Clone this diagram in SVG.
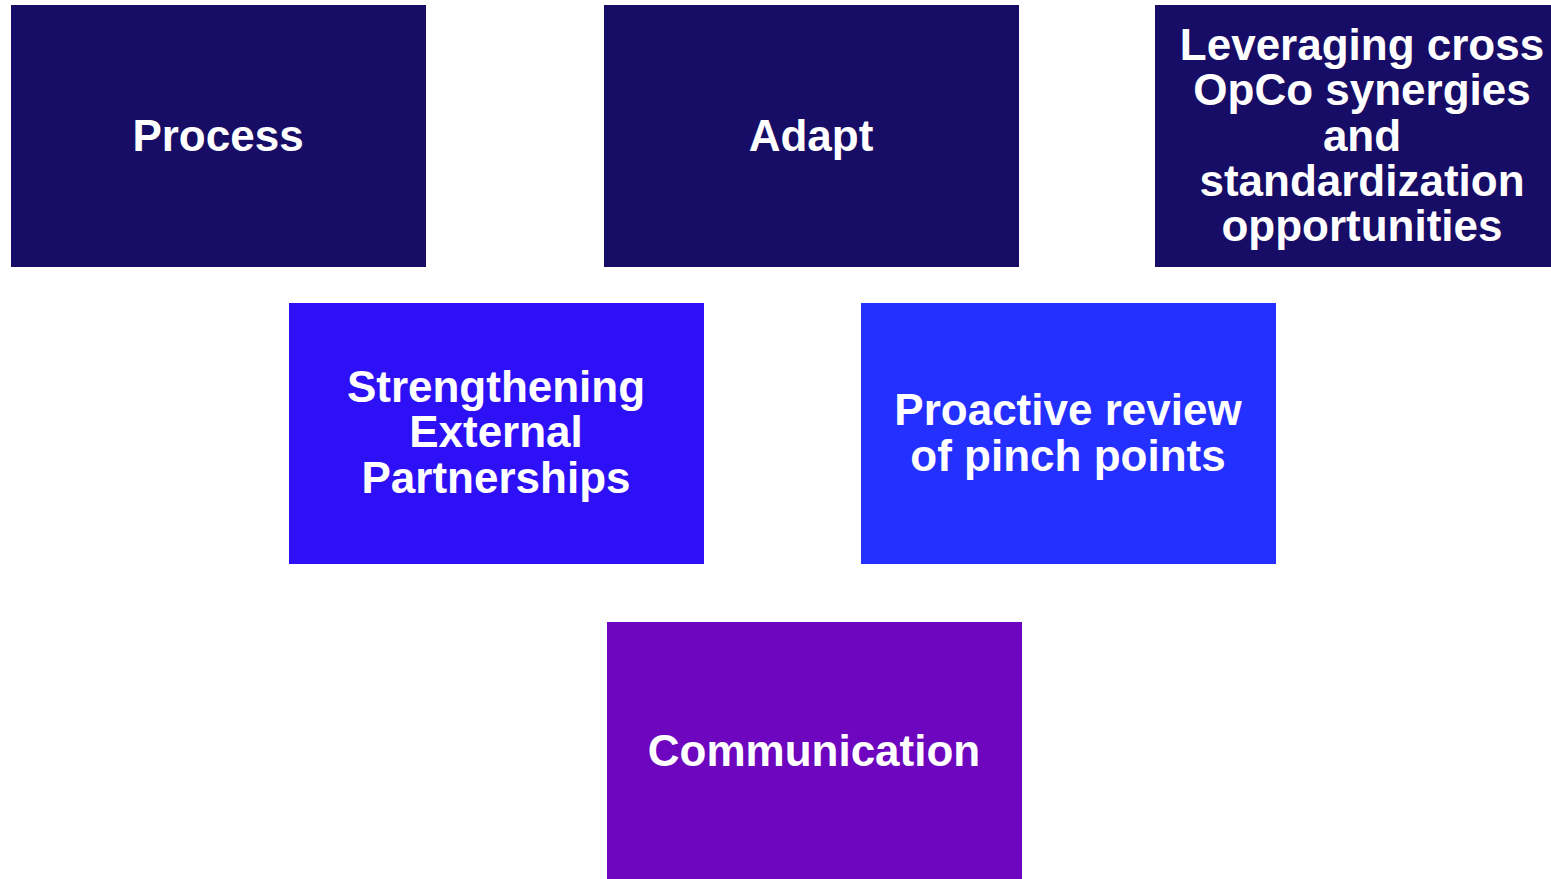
<svg xmlns="http://www.w3.org/2000/svg" width="1551" height="879" viewBox="0 0 1551 879">
<style>
text{font-family:"Liberation Sans",Arial,sans-serif;font-weight:bold;font-size:44px;fill:#ffffff;text-anchor:middle}
.navy{fill:#170C66}
</style>
<rect width="1551" height="879" fill="#ffffff"/>
<g id="connectors"></g>
<g id="process"><rect class="navy" x="11" y="5" width="415" height="262"/><text x="218" y="151">Process</text></g>
<g id="adapt"><rect class="navy" x="604" y="5" width="415" height="262"/><text x="811" y="151">Adapt</text></g>
<g id="leveraging"><rect class="navy" x="1155" y="5" width="415" height="262"/>
<text x="1362" y="60">Leveraging cross</text>
<text x="1362" y="105">OpCo synergies</text>
<text x="1362" y="151">and</text>
<text x="1362" y="196">standardization</text>
<text x="1362" y="241">opportunities</text></g>
<g id="strengthening"><rect x="289" y="303" width="415" height="261" fill="#2D10F5"/>
<text x="496" y="402">Strengthening</text>
<text x="496" y="447">External</text>
<text x="496" y="493">Partnerships</text></g>
<g id="proactive"><rect x="861" y="303" width="415" height="261" fill="#2430FF"/>
<text x="1068" y="425">Proactive review</text>
<text x="1068" y="471">of pinch points</text></g>
<g id="communication"><rect x="607" y="622" width="415" height="262" fill="#6E06BF"/>
<text x="814" y="766">Communication</text></g>
</svg>
